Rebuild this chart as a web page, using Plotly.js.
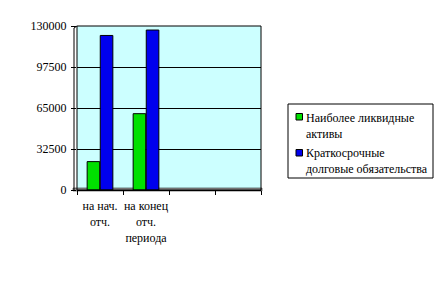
<!DOCTYPE html>
<html><head><meta charset="utf-8">
<script src="https://cdn.plot.ly/plotly-3.0.1.min.js"></script>
<style>html,body{margin:0;padding:0;background:#fff}#c{width:442px;height:285px}
#c svg text{font-family:"Liberation Serif",serif !important;}</style>
</head><body><div id="c"></div>
<script>
var categories = ["на нач.<br>отч.", "на конец<br>отч.<br>периода", " ", "  "];
var seriesNames = ["Наиболее ликвидные<br>активы", "Краткосрочные<br>долговые обязательства"];
var liquidAssets = [22500, 60500, null, null];
var shortTermDebt = [122500, 126800, null, null];
var yTicks = [0, 32500, 65000, 97500, 130000];
var seriesColors = ["#00E000", "#0000EE"];

function F() { return {family: "Liberation Serif", size: 12, color: "#000"}; }

var W = 442, H = 285, ML = 77, MR = 181, MT = 26, MB = 95;
var PW = W - ML - MR, PH = H - MT - MB;
function px(x) { return (x - ML) / PW; }
function py(y) { return (H - MB - y) / PH; }

var traces = [
  {type: "bar", x: categories, y: liquidAssets, name: seriesNames[0], showlegend: false,
   marker: {color: seriesColors[0], line: {color: "#000", width: 1}}},
  {type: "bar", x: categories, y: shortTermDebt, name: seriesNames[1], showlegend: false,
   marker: {color: seriesColors[1], line: {color: "#000", width: 1}}}
];

var shapes = [
  {type: "rect", xref: "paper", yref: "paper", x0: 0, x1: 1, y0: 0, y1: 1,
   line: {color: "#000", width: 1}, fillcolor: "rgba(0,0,0,0)", layer: "above"},
  {type: "rect", xref: "paper", yref: "paper", x0: px(73), x1: px(262), y0: py(191), y1: py(188),
   line: {color: "#000", width: 0.5}, fillcolor: "#999", layer: "below"},
  {type: "line", xref: "paper", yref: "paper", x0: px(74), x1: px(74), y0: py(191), y1: py(28),
   line: {color: "#000", width: 1}},
  {type: "line", xref: "paper", yref: "paper", x0: px(74), x1: px(77), y0: py(28), y1: py(26),
   line: {color: "#000", width: 1}},
  {type: "rect", xref: "paper", yref: "paper", x0: px(288), x1: px(433), y0: py(104), y1: py(178),
   line: {color: "#000", width: 1}, fillcolor: "#fff"},
  {type: "rect", xref: "paper", yref: "paper", x0: px(296), x1: px(302.5), y0: py(113.5), y1: py(120),
   line: {color: "#000", width: 1}, fillcolor: seriesColors[0]},
  {type: "rect", xref: "paper", yref: "paper", x0: px(296), x1: px(302.5), y0: py(149.5), y1: py(156),
   line: {color: "#000", width: 1}, fillcolor: seriesColors[1]}
];
var annotations = [
  {xref: "paper", yref: "paper", x: px(305), y: py(125.5), xanchor: "left", yanchor: "middle",
   align: "left", showarrow: false, text: seriesNames[0], font: F(), borderpad: 0},
  {xref: "paper", yref: "paper", x: px(305), y: py(160.5), xanchor: "left", yanchor: "middle",
   align: "left", showarrow: false, text: seriesNames[1], font: F(), borderpad: 0}
];

var layout = {
  width: W, height: H,
  margin: {l: ML, r: MR, t: MT, b: MB, pad: 0, autoexpand: false},
  paper_bgcolor: "#fff", plot_bgcolor: "#CCFFFF",
  font: F(), showlegend: false, barmode: "group", bargap: 0.43, bargroupgap: 0.04,
  xaxis: {type: "category", tickson: "boundaries", ticks: "outside", ticklen: 4,
          tickcolor: "#000", showline: true, linecolor: "#000", tickangle: 0,
          ticklabelstandoff: 5, showgrid: false, tickfont: F(), fixedrange: true, automargin: false},
  yaxis: {range: [0, 130000], tickvals: yTicks, ticktext: yTicks.map(String),
          ticks: "outside", ticklen: 5, tickcolor: "#000", showline: false, ticklabelstandoff: 2,
          gridcolor: "#000", gridwidth: 1, zeroline: false, tickfont: F(), fixedrange: true,
          automargin: false},
  shapes: shapes, annotations: annotations
};
Plotly.newPlot("c", traces, layout, {displayModeBar: false, staticPlot: true});
</script></body></html>
